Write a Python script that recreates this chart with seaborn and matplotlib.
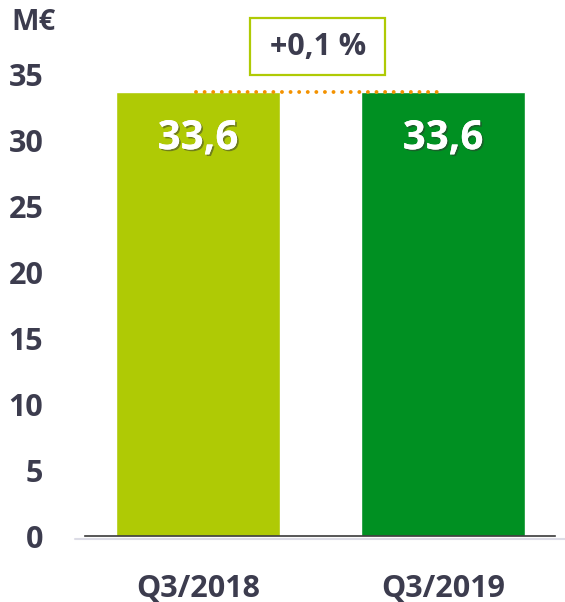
import matplotlib
matplotlib.use("Agg")
import matplotlib.pyplot as plt
import matplotlib.patheffects as pe
from matplotlib.patches import Rectangle
from matplotlib.lines import Line2D
import seaborn as sns
import pandas as pd

categories = ["Q3/2018", "Q3/2019"]
values = [33.6, 33.6]
value_labels = ["33,6", "33,6"]
bar_colors = ["#AFCA05", "#009022"]
yticks = [0, 5, 10, 15, 20, 25, 30, 35]
unit_label = "M€"
change_label = "+0,1 %"

sns.set_theme(style="white")
plt.rcParams["font.family"] = ["Open Sans", "DejaVu Sans"]
WT = "bold"

TXT = "#3c3c4e"
W, H = 565, 602
fig = plt.figure(figsize=(W / 100, H / 100), dpi=100)
ax = fig.add_axes([85 / W, (H - 536) / H, 470 / W, 462 / H])

# faint baseline under the axis
fig.lines.append(Line2D([75 / W, 1.0], [1 - 538.5 / H, 1 - 538.5 / H],
                        transform=fig.transFigure, color="#dcdce6", lw=1.5,
                        zorder=0))

df = pd.DataFrame({"cat": categories, "val": values})
sns.barplot(data=df, x="cat", y="val", hue="cat", palette=bar_colors,
            width=0.67, saturation=1, legend=False, ax=ax, zorder=2)

ax.set_xlim(-0.461, 1.457)
ax.set_ylim(0, 35)
ax.set_yticks(yticks)
ax.set_yticklabels([str(t) for t in yticks])
ax.set_xlabel("")
ax.set_ylabel("")
ax.patch.set_alpha(0)
for s in ["top", "right", "left"]:
    ax.spines[s].set_visible(False)
ax.spines["bottom"].set_color("#3a3a3a")
ax.spines["bottom"].set_linewidth(1.2)
ax.spines["bottom"].set_zorder(3)
ax.tick_params(axis="y", length=0, pad=30, labelsize=22, labelcolor=TXT)
ax.tick_params(axis="x", length=0, pad=27, labelsize=22, labelcolor=TXT)
for lab in ax.get_xticklabels() + ax.get_yticklabels():
    lab.set_fontweight(WT)

# value labels inside bars
for i, (v, lbl) in enumerate(zip(values, value_labels)):
    ax.text(i, v - 3.5, lbl, ha="center", va="center", color="white",
            fontsize=29, fontweight=WT, zorder=4,
            path_effects=[pe.withSimplePatchShadow(offset=(1.2, -1.2),
                                                   shadow_rgbFace="#333333",
                                                   alpha=0.5),
                          pe.Normal()])

# dotted reference line between bars
ax.plot([-0.008, 0.98], [values[0] + 0.05, values[1] + 0.05],
        color="#F39200", lw=2.8, linestyle=(0, (0.01, 2.2)),
        dash_capstyle="round", zorder=5)

# change box
fig.patches.append(Rectangle((250 / W, 1 - 75 / H), 135 / W, 57 / H,
                             transform=fig.transFigure, fill=False,
                             edgecolor="#AFCA05", linewidth=1.6))
fig.text(318 / W, 1 - 47 / H, change_label, ha="center", va="center",
         fontsize=22, fontweight=WT, color=TXT)

# unit label
fig.text(11 / W, 1 - 23 / H, unit_label, ha="left", va="center",
         fontsize=21, fontweight=WT, color=TXT)

fig.savefig("out.png", dpi=100)
